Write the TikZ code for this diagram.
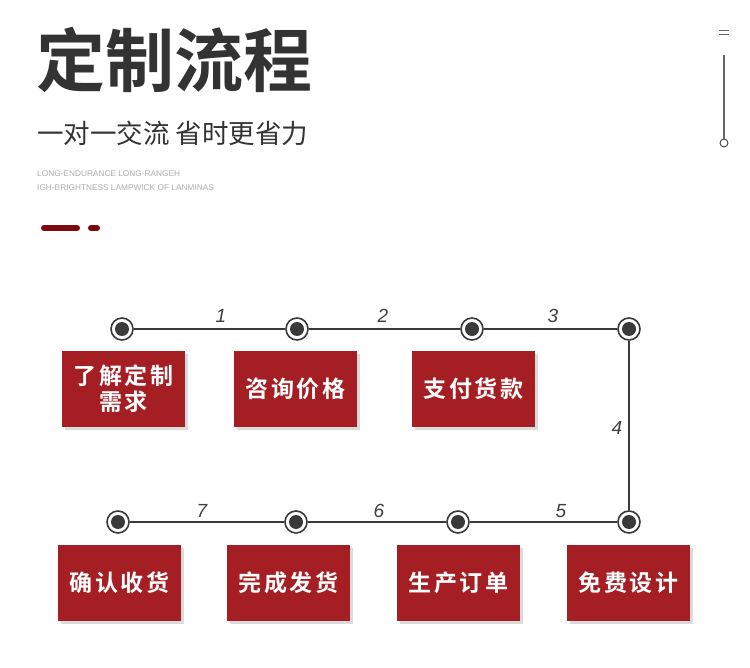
\documentclass[tikz,border=0pt]{standalone}
\usepackage{fontspec}
\setmainfont{Liberation Sans}
\newfontfamily\cjkb{Noto Sans CJK SC Bold}
\newfontfamily\cjk{Noto Sans CJK SC}
\newfontfamily\cjkbs[LetterSpace=12]{Noto Sans CJK SC Bold}
\definecolor{boxred}{HTML}{A51E23}
\definecolor{darkred}{HTML}{7D0A0E}
\definecolor{ink}{HTML}{333333}
\definecolor{lineink}{HTML}{3A3A3A}
\begin{document}
\begin{tikzpicture}[x=1pt,y=-1pt,
  dot/.style={circle,draw=lineink,line width=1.6pt,fill=white,minimum size=22pt,inner sep=0pt,
    path picture={\fill[lineink] (path picture bounding box.center) circle (7pt);}},
  stepbox/.style={fill=boxred,minimum width=123pt,minimum height=76pt,inner sep=0pt,text=white,
    font=\cjkbs\fontsize{23}{26}\selectfont,align=center},
  shadowbox/.style={fill=black!14,minimum width=123pt,minimum height=76pt,inner sep=0pt},
  num/.style={font=\itshape\fontsize{19}{19}\selectfont,text=black!75},
  link/.style={draw=lineink,line width=1.6pt}]
\useasboundingbox[fill=white] (0,0) rectangle (750,668);

% header
\node[anchor=west,inner sep=0pt,text=ink,font=\cjkb\fontsize{69}{69}\selectfont] (title) at (36,60) {定制流程};
\node[anchor=west,inner sep=0pt,text=ink,font=\cjk\fontsize{26.5}{27}\selectfont] (sub) at (37,133) {一对一交流 省时更省力};
\node[anchor=west,inner sep=0pt,text=black!32,font=\fontsize{8.3}{9}\selectfont] (e1) at (37,174) {LONG-ENDURANCE LONG-RANGEH};
\node[anchor=west,inner sep=0pt,text=black!32,font=\fontsize{8.3}{9}\selectfont] (e2) at (37,188) {IGH-BRIGHTNESS LAMPWICK OF LANMINAS};
\draw[darkred,line width=6pt,line cap=round] (44,228) -- (77,228);
\draw[darkred,line width=6pt,line cap=round] (91,228) -- (97,228);

% right ornament
\draw[black!60,line width=1pt] (719,31) -- (729,31) (719,35) -- (729,35);
\coordinate (vtop) at (724,55);
\node[circle,draw=black!75,line width=0.9pt,fill=white,minimum size=8pt,inner sep=0pt] (vo) at (724,143) {};
\draw[black!60,line width=1.3pt] (vtop) -- (vo);

% top row dots
\node[dot] (d1) at (122,329) {};
\node[dot] (d2) at (297,329) {};
\node[dot] (d3) at (472,329) {};
\node[dot] (d4) at (629,329) {};
% bottom row dots
\node[dot] (d8) at (118,522) {};
\node[dot] (d7) at (296,522) {};
\node[dot] (d6) at (458,522) {};
\node[dot] (d5) at (629,522) {};

\draw[link] (d1) -- (d2);
\draw[link] (d2) -- (d3);
\draw[link] (d3) -- (d4);
\draw[link] (d4) -- (d5);
\draw[link] (d5) -- (d6);
\draw[link] (d6) -- (d7);
\draw[link] (d7) -- (d8);

\node[num] (n1) at (221,316) {1};
\node[num] (n2) at (383,316) {2};
\node[num] (n3) at (553,316) {3};
\node[num] (n4) at (617,428) {4};
\node[num] (n5) at (561,511) {5};
\node[num] (n6) at (379,511) {6};
\node[num] (n7) at (202,511) {7};

% boxes
\foreach \cx/\cy in {123.5/389, 295.5/389, 473.5/389, 119.5/583, 288.5/583, 458.5/583, 628.5/583}
  \node[shadowbox] at (\cx+3,\cy+3) {};
\node[stepbox] (b1) at (123.5,389) {了解定制\\需求};
\node[stepbox] (b2) at (295.5,389) {咨询价格};
\node[stepbox] (b3) at (473.5,389) {支付货款};
\node[stepbox] (b4) at (628.5,583) {免费设计};
\node[stepbox] (b5) at (458.5,583) {生产订单};
\node[stepbox] (b6) at (288.5,583) {完成发货};
\node[stepbox] (b7) at (119.5,583) {确认收货};
\end{tikzpicture}
\end{document}
